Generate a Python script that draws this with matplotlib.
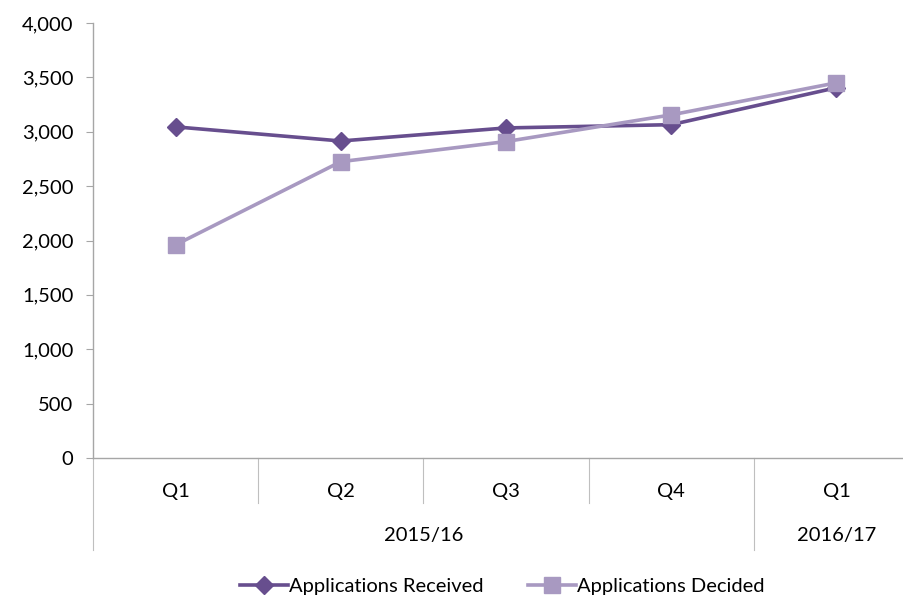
import matplotlib.pyplot as plt
from matplotlib.ticker import FuncFormatter

quarters = ["Q1", "Q2", "Q3", "Q4", "Q1"]
years = ["2015/16", "2016/17"]
year_spans = [(0, 3), (4, 4)]
received = [3045, 2915, 3035, 3065, 3405]
decided = [1960, 2725, 2910, 3155, 3450]

plt.rcParams["font.family"] = ["Lato", "DejaVu Sans"]

fig = plt.figure(figsize=(9.04, 5.98), dpi=100)
W, H = 904, 598
# axes box in pixels: left 93, top 23, bottom 458; right edge runs past the canvas
ax = fig.add_axes([93 / W, (H - 458) / H, 826 / W, 435 / H])

dark = "#674e8e"
light = "#a899c1"
grey = "#a6a6a6"
fs = 14.5

x = range(len(quarters))
ax.plot(x, received, color=dark, lw=2.6, marker="D", ms=9, zorder=3,
        label="Applications Received")
ax.plot(x, decided, color=light, lw=2.6, marker="s", ms=12, zorder=3,
        label="Applications Decided")

ax.set_xlim(-0.5, 4.5)
ax.set_ylim(0, 4000)
ax.set_yticks(range(0, 4001, 500))
ax.yaxis.set_major_formatter(FuncFormatter(lambda v, p: f"{int(v):,}"))
ax.tick_params(axis="y", length=5, color=grey, labelsize=fs, pad=9)
ax.set_xticks([])

for s in ["top", "right"]:
    ax.spines[s].set_visible(False)
for s in ["left", "bottom"]:
    ax.spines[s].set_color(grey)
    ax.spines[s].set_linewidth(1)

# two-level category axis
trans = ax.get_xaxis_transform()
short_y = -45 / 435
long_y = -92 / 435
for i, q in enumerate(quarters):
    ax.text(i, -33 / 435, q, transform=trans, ha="center", va="center",
            fontsize=fs)
for b in [0.5, 1.5, 2.5]:
    ax.plot([b, b], [0, short_y], transform=trans, color="#bfbfbf", lw=0.8,
            clip_on=False)
for b in [-0.5, 3.5]:
    ax.plot([b, b], [0, long_y], transform=trans, color="#bfbfbf", lw=0.8,
            clip_on=False)
for label, (a, b) in zip(years, year_spans):
    ax.text((a + b) / 2, -78 / 435, label, transform=trans, ha="center",
            va="center", fontsize=fs)

fig.legend(loc="center", bbox_to_anchor=(502 / W, 12 / H), ncol=2,
           frameon=False, fontsize=fs, handlelength=2.4, columnspacing=2.2,
           handletextpad=0.05)

fig.savefig("out.png", dpi=100)
